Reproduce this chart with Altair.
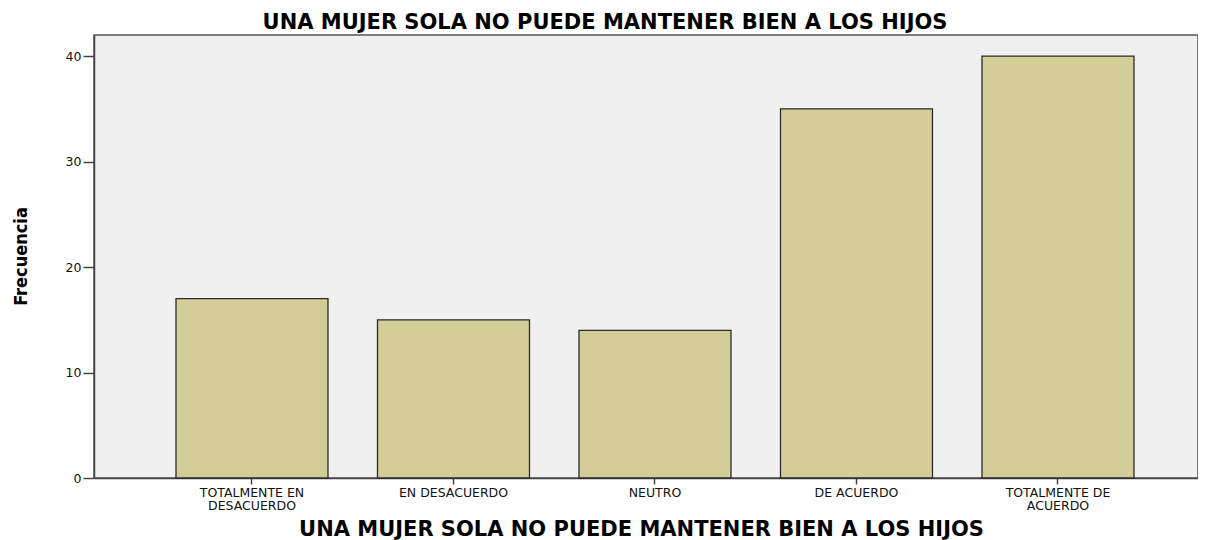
import altair as alt
import pandas as pd

categorias = [
    "TOTALMENTE EN DESACUERDO",
    "EN DESACUERDO",
    "NEUTRO",
    "DE ACUERDO",
    "TOTALMENTE DE ACUERDO",
]
frecuencias = [17, 15, 14, 35, 40]
y_ticks = [0, 10, 20, 30, 40]

titulo = "UNA MUJER SOLA NO PUEDE MANTENER BIEN A LOS HIJOS"

df = pd.DataFrame({"categoria": categorias, "frecuencia": frecuencias})

label_expr = (
    "datum.label == 'TOTALMENTE EN DESACUERDO' ? ['TOTALMENTE EN', 'DESACUERDO'] : "
    "datum.label == 'TOTALMENTE DE ACUERDO' ? ['TOTALMENTE DE', 'ACUERDO'] : datum.label"
)

chart = (
    alt.Chart(df)
    .mark_bar(fill="#D3CE97", stroke="#2b2b2b", strokeWidth=1.3)
    .encode(
        x=alt.X(
            "categoria:N",
            sort=categorias,
            scale=alt.Scale(paddingInner=0.2457, paddingOuter=0.3623, align=0.5616),
            axis=alt.Axis(
                title=titulo,
                labelAngle=0,
                labelExpr=label_expr,
                labelFont="DejaVu Sans",
                labelFontSize=12.5,
                labelColor="#111111",
                labelLineHeight=13,
                labelPadding=2,
                labelOverlap=False,
                tickSize=6,
                tickColor="#444444",
                tickWidth=1.5,
                domainColor="#444444",
                domainWidth=1.5,
                titleFont="DejaVu Sans",
                titleFontWeight="bold",
                titleFontSize=21,
                titleColor="#000000",
                titleX=547,
                titleY=57,
                titleAlign="center",
                titleBaseline="alphabetic",
            ),
        ),
        y=alt.Y(
            "frecuencia:Q",
            scale=alt.Scale(domain=[0, 42], nice=False),
            axis=alt.Axis(
                values=y_ticks,
                grid=False,
                title="Frecuencia",
                labelFont="DejaVu Sans",
                labelFontSize=12.5,
                labelColor="#111111",
                labelPadding=2,
                tickSize=11,
                tickColor="#444444",
                tickWidth=1.5,
                domainColor="#444444",
                domainWidth=1.5,
                titleFont="DejaVu Sans Condensed, Roboto Condensed, Roboto, sans-serif",
                titleFontWeight="bold",
                titleFontSize=18,
                titleColor="#000000",
                titleAngle=270,
                titleX=-73,
                titleY=221,
                titleAlign="center",
                titleBaseline="middle",
            ),
        ),
    )
    .properties(
        width=1104,
        height=443,
        autosize=alt.AutoSizeParams(type="none"),
        padding={"left": 86, "top": 27, "right": 0, "bottom": 62},
        title=alt.TitleParams(
            text=titulo,
            font="DejaVu Sans",
            fontWeight="bold",
            fontSize=21,
            color="#000000",
            anchor="middle",
            frame="group",
            baseline="alphabetic",
            offset=8,
            dx=-41,
            dy=23,
        ),
    )
    .configure_view(fill="#F0F0F0", stroke="#555555", strokeWidth=1.5)
)

chart.save("out.html", embed_options={"renderer": "svg", "actions": False})
